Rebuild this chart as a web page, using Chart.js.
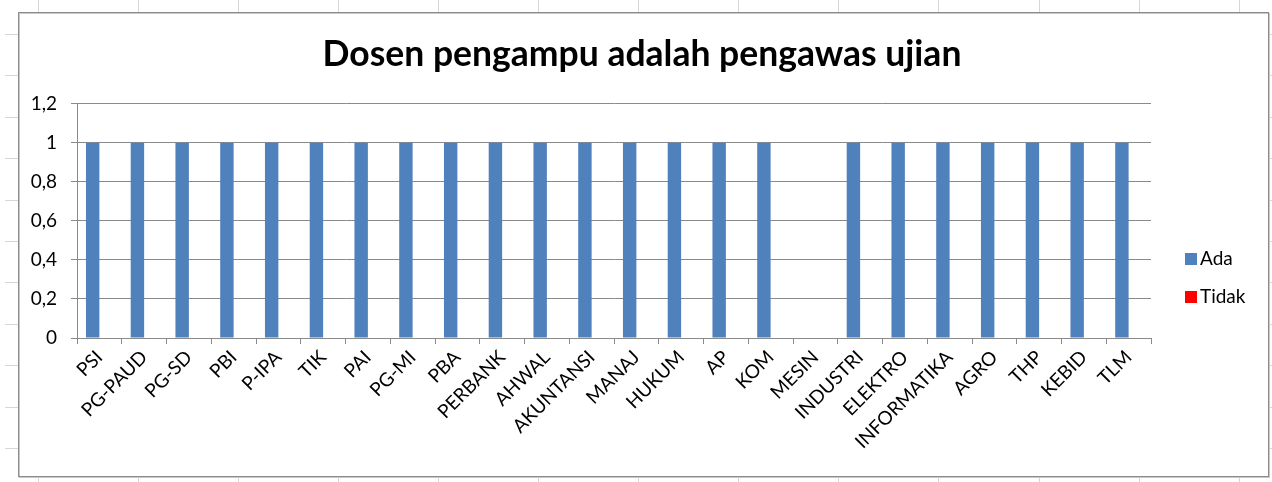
<!DOCTYPE html>
<html>
<head>
<meta charset="utf-8">
<title>Dosen pengampu adalah pengawas ujian</title>
<script src="https://cdn.jsdelivr.net/npm/chart.js@4.4.1/dist/chart.umd.min.js"></script>
<style>
  html, body { margin: 0; padding: 0; background: #fff; }
  canvas { display: block; }
</style>
</head>
<body>
<canvas id="chart" width="1272" height="482"></canvas>
<script>
// ===== data =====
const PRODI = ['PSI', 'PG-PAUD', 'PG-SD', 'PBI', 'P-IPA', 'TIK', 'PAI', 'PG-MI', 'PBA', 'PERBANK',
  'AHWAL', 'AKUNTANSI', 'MANAJ', 'HUKUM', 'AP', 'KOM', 'MESIN', 'INDUSTRI', 'ELEKTRO',
  'INFORMATIKA', 'AGRO', 'THP', 'KEBID', 'TLM'];
const ADA   = [1, 1, 1, 1, 1, 1, 1, 1, 1, 1, 1, 1, 1, 1, 1, 1, 0, 1, 1, 1, 1, 1, 1, 1];
const TIDAK = [0, 0, 0, 0, 0, 0, 0, 0, 0, 0, 0, 0, 0, 0, 0, 0, 0, 0, 0, 0, 0, 0, 0, 0];
const TITLE = 'Dosen pengampu adalah pengawas ujian';

const C = { ada: '#4F81BD', tidak: '#FF0000', grid: '#8A8A8A', sheet: '#D6D6D6', text: '#000' };
const FONT = 'Lato, Carlito, "Open Sans", sans-serif';

// spreadsheet cells behind the chart object + the chart frame
const sheetBg = {
  id: 'sheetBg',
  beforeDraw(chart) {
    const ctx = chart.ctx, W = chart.width, H = chart.height;
    const box = { l: 18, t: 12, r: 1268, b: 476 };
    ctx.save();
    ctx.fillStyle = '#fff';
    ctx.fillRect(0, 0, W, H);
    ctx.strokeStyle = C.sheet;
    ctx.lineWidth = 1;
    ctx.beginPath();
    for (let x = 37.5; x < W; x += 100.1) {
      const px = Math.round(x) + 0.5;
      ctx.moveTo(px, 0); ctx.lineTo(px, box.t);
      ctx.moveTo(px, box.b); ctx.lineTo(px, H);
    }
    for (let y = 34; y < H - 20; y += 41.4) {
      const py = Math.round(y) + 0.5;
      ctx.moveTo(5, py); ctx.lineTo(box.l, py);
      ctx.moveTo(box.r, py); ctx.lineTo(W, py);
    }
    ctx.stroke();
    // frame with a faint shadow
    ctx.strokeStyle = '#C8C8C8';
    ctx.strokeRect(box.l + 1.5, box.t + 1.5, box.r - box.l, box.b - box.t);
    ctx.strokeStyle = '#8C8C8C';
    ctx.strokeRect(box.l + 0.5, box.t + 0.5, box.r - box.l, box.b - box.t);
    ctx.restore();
  }
};

// legend on the right, Excel style
const sideLegend = {
  id: 'sideLegend',
  afterDraw(chart) {
    const ctx = chart.ctx;
    ctx.save();
    ctx.font = '19px ' + FONT;
    ctx.textBaseline = 'middle';
    ctx.textAlign = 'left';
    chart.data.datasets.forEach((ds, i) => {
      const y = 259 + i * 38;
      ctx.fillStyle = ds.backgroundColor;
      ctx.fillRect(1185, y - 6, 12, 12);
      ctx.fillStyle = C.text;
      ctx.fillText(ds.label, 1200, y);
    });
    ctx.restore();
  }
};

function fmt(v) {
  return String(Math.round(v * 10) / 10).replace('.', ',');
}

new Chart(document.getElementById('chart'), {
  type: 'bar',
  data: {
    labels: PRODI,
    datasets: [
      { label: 'Ada', data: ADA, backgroundColor: C.ada, borderWidth: 0,
        categoryPercentage: 0.6, barPercentage: 1 },
      { label: 'Tidak', data: TIDAK, backgroundColor: C.tidak, borderWidth: 0,
        categoryPercentage: 0.6, barPercentage: 1 }
    ]
  },
  options: {
    responsive: false,
    animation: false,
    layout: { padding: { left: 12, right: 0, top: 0, bottom: 0 } },
    plugins: {
      legend: { display: false },
      tooltip: { enabled: false },
      title: {
        display: true, text: TITLE, color: C.text,
        font: { family: FONT, size: 35.5, weight: 'bold' },
        padding: { top: 33, bottom: 28 }
      }
    },
    scales: {
      x: {
        afterFit(s) { s.height = 144; },
        grid: { display: true, drawOnChartArea: false, drawTicks: true, tickLength: 6, color: C.grid, offset: true },
        border: { display: true, color: C.grid, width: 1 },
        ticks: {
          color: C.text, font: { family: FONT, size: 19 },
          minRotation: 45, maxRotation: 45, autoSkip: false, padding: 2
        }
      },
      y: {
        min: 0, max: 1.2,
        afterFit(s) { s.width = 65; },
        grid: { color: C.grid, tickLength: 6, drawTicks: true },
        border: { display: true, color: C.grid, width: 1 },
        ticks: {
          stepSize: 0.2, color: C.text, padding: 14,
          font: { family: FONT, size: 19 },
          callback: v => fmt(v)
        }
      },
      // empty strip on the right that keeps room for the legend
      side: {
        type: 'linear', position: 'right', display: true,
        afterFit(s) { s.width = 121; },
        grid: { display: false, drawOnChartArea: false },
        border: { display: false },
        ticks: { display: false }
      }
    }
  },
  plugins: [sheetBg, sideLegend]
});
</script>
</body>
</html>
